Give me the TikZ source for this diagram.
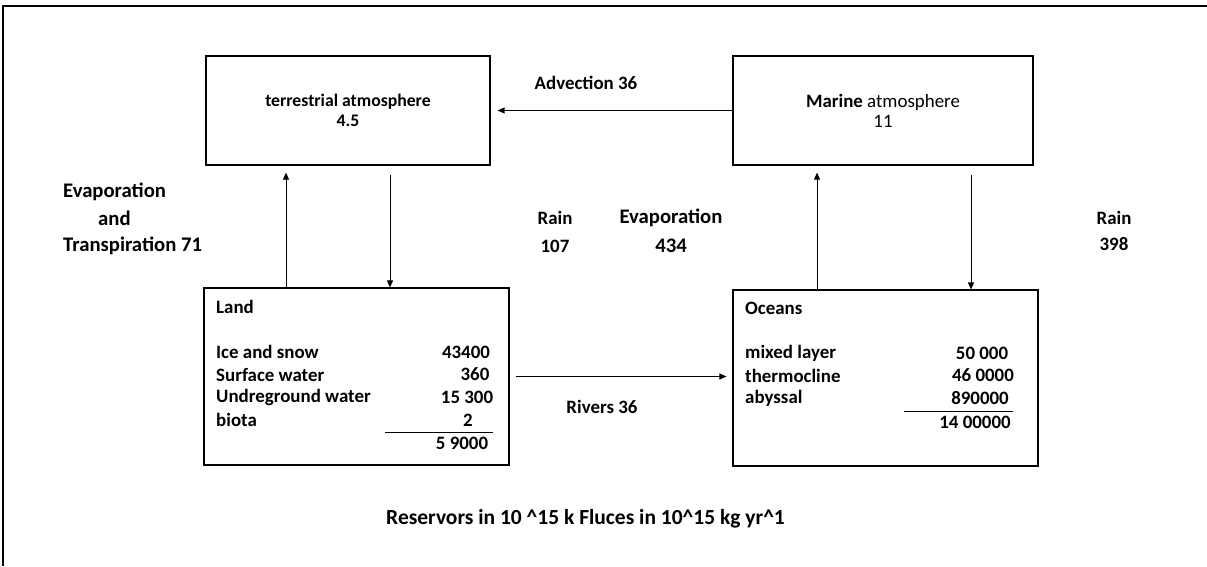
\documentclass[tikz,border=0pt]{standalone}
\usepackage{fontspec}
\setmainfont{Carlito}
\usetikzlibrary{arrows.meta}

\newcommand{\txtfont}{\fontsize{18.9pt}{20pt}\selectfont}
\newcommand{\atmfont}{\fontsize{17.7pt}{20pt}\selectfont}
\newcommand{\sidefont}{\fontsize{20.7pt}{22pt}\selectfont}
\newcommand{\capfont}{\fontsize{21.5pt}{24pt}\selectfont\bfseries}

\begin{document}
\begin{tikzpicture}[x=1pt, y=-1pt,
    box/.style={draw, line width=1.2pt, inner sep=0pt},
    flow/.style={-{Triangle[length=7pt,width=6pt]}, line width=0.9pt},
    lbl/.style={font=\txtfont\bfseries, inner sep=0pt},
    side/.style={font=\sidefont\bfseries, inner sep=0pt}]
    \useasboundingbox (0,0) rectangle (1207,566);
    % frame
    \draw[line width=2.5pt] (3,566) -- (3,6) -- (1207,6);

    % reservoirs
    \node[box, minimum width=284pt, minimum height=109pt, align=center, font=\atmfont\bfseries]
        (tatm) at (348,110.5) {terrestrial atmosphere\\4.5};
    \node[box, minimum width=300pt, minimum height=109pt, align=center, font=\txtfont]
        (matm) at (883,110.5) {\textbf{Marine} atmosphere\\11};
    \node[box, minimum width=305pt, minimum height=177pt] (land) at (356.5,376.5) {};
    \node[box, minimum width=305pt, minimum height=176pt] (ocean) at (885.5,378) {};

    % land contents
    \node[lbl, anchor=west] (landhead) at (216,307) {Land};
    \foreach \name/\val/\vx [count=\i] in {Ice and snow/43400/466, Surface water/360/475,
        Undreground water/15 300/467, biota/2/468}
    {
        \node[lbl, anchor=west] (landrow\i) at (216,{352+22.6*(\i-1)}) {\name};
        \node[lbl] (landval\i) at (\vx,{352+22.6*(\i-1)}) {\val};
    }
    \draw[line width=0.8pt] (385,432) -- (493,432);
    \node[lbl] (landsum) at (462,443) {5 9000};

    % ocean contents
    \node[lbl, anchor=west] (oceanhead) at (745,308) {Oceans};
    \foreach \name/\val/\vx [count=\i] in {mixed layer/50 000/982, thermocline/46 0000/983,
        abyssal/890000/980}
    {
        \node[lbl, anchor=west] (oceanrow\i) at (745,{353+22.6*(\i-1)}) {\name};
        \node[lbl] (oceanval\i) at (\vx,{353+22.6*(\i-1)}) {\val};
    }
    \draw[line width=0.8pt] (904,411) -- (1013,411);
    \node[lbl] (oceansum) at (975,422) {14 00000};

    % fluxes
    \draw[flow, shorten >=7pt] (matm.west) -- (tatm.east);
    \draw[flow, shorten >=7pt] ([xshift=-62pt]tatm.south |- land.north) -- ([xshift=-62pt]tatm.south);
    \draw[flow, shorten <=9pt] ([xshift=42pt]tatm.south) -- ([xshift=42pt]tatm.south |- land.north);
    \draw[flow, shorten >=7pt] ([xshift=-66pt]matm.south |- ocean.north) -- ([xshift=-66pt]matm.south);
    \draw[flow, shorten <=9pt] ([xshift=88pt]matm.south) -- ([xshift=88pt]matm.south |- ocean.north);
    \draw[flow, shorten <=6pt, shorten >=6pt] (land.east) -- (ocean.west |- land.east);

    % flux labels
    \node[lbl] (advect) at (586,83) {Advection 36};
    \node[side, anchor=west] (evapA) at (63,192) {Evaporation};
    \node[side, anchor=west] (evapB) at (98,218) {and};
    \node[side, anchor=west] (evapC) at (63,246) {Transpiration 71};
    \node[lbl] (rainL) at (555,218) {Rain};
    \node[lbl] (rainLv) at (555,246) {107};
    \node[side] (evapO) at (671,218) {Evaporation};
    \node[side] (evapOv) at (671,246) {434};
    \node[lbl] (rainO) at (1114,218) {Rain};
    \node[lbl] (rainOv) at (1114,244) {398};
    \node[lbl] (rivers) at (602,407) {Rivers 36};

    % caption
    \node[font=\capfont, inner sep=0pt, anchor=west] (caption) at (386,519)
        {Reservors in 10 \textasciicircum15 k Fluces in 10\textasciicircum15 kg yr\textasciicircum1};
\end{tikzpicture}
\end{document}
